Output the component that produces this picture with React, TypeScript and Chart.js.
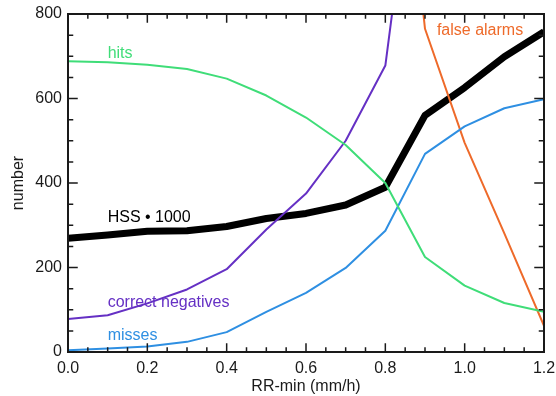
import React, { useEffect, useRef } from 'react';
import { Chart, registerables } from 'chart.js';

Chart.register(...registerables);

// ---- data ----
const rrMin = [0, 0.1, 0.2, 0.3, 0.4, 0.5, 0.6, 0.7, 0.8, 0.9, 1.0, 1.1, 1.2];
const hits = [688, 686, 680, 670, 647, 607, 555, 490, 400, 225, 157, 116, 95];
const correctNegatives = [78, 87, 115, 148, 196, 290, 375, 500, 678, 1400, null, null, null];
const misses = [4, 8, 13, 24, 47, 95, 140, 199, 287, 469, 534, 577, 598];
const falseAlarms = [null, null, null, null, null, null, null, null, 1640, 765, 495, 281, 62];
const hss1000 = [269, 277, 286, 287, 297, 316, 328, 348, 390, 560, 626, 699, 758];

const xTicks = [0, 0.2, 0.4, 0.6, 0.8, 1.0, 1.2];
const yTicks = [0, 200, 400, 600, 800];

const seriesNames = ['hits', 'correct negatives', 'misses', 'false alarms', 'HSS \u2022 1000'];
const seriesColors = ['#3fdd78', '#6530c4', '#2e8fe2', '#ee6a2a', '#000000'];
const labelX = [0.1, 0.1, 0.1, 0.93, 0.1];
const labelY = [707, 116, 38, 760, 318];

const FONT = '"Liberation Sans", Arial, Helvetica, sans-serif';
const AXIS = '#1a1a1a';

const toPts = (ys: (number | null)[]) => rrMin.map((x, i) => ({ x, y: ys[i] }));

const overlay = {
  id: 'overlay',
  afterDraw(chart: any) {
    const ctx = chart.ctx as CanvasRenderingContext2D;
    const area = chart.chartArea;
    const xs = chart.scales.x;
    const ys = chart.scales.y;
    ctx.save();
    ctx.strokeStyle = AXIS;
    ctx.lineCap = 'square';
    ctx.lineWidth = 2;
    ctx.strokeRect(area.left, area.top, area.right - area.left, area.bottom - area.top);
    ctx.lineWidth = 1.5;
    ctx.beginPath();
    for (let i = 0; i <= 24; i++) {
      const px = xs.getPixelForValue(i * 0.05);
      const len = i % 4 === 0 ? 8 : 4;
      ctx.moveTo(px, area.bottom);
      ctx.lineTo(px, area.bottom - len);
      ctx.moveTo(px, area.top);
      ctx.lineTo(px, area.top + len);
    }
    for (let i = 0; i <= 16; i++) {
      const py = ys.getPixelForValue(i * 50);
      const len = i % 4 === 0 ? 9 : 4.5;
      ctx.moveTo(area.left, py);
      ctx.lineTo(area.left + len, py);
      ctx.moveTo(area.right, py);
      ctx.lineTo(area.right - len, py);
    }
    ctx.stroke();
    ctx.font = '16px ' + FONT;
    ctx.textAlign = 'left';
    ctx.textBaseline = 'middle';
    for (let i = 0; i < seriesNames.length; i++) {
      ctx.fillStyle = seriesColors[i];
      ctx.fillText(seriesNames[i], xs.getPixelForValue(labelX[i]), ys.getPixelForValue(labelY[i]));
    }
    ctx.restore();
  },
};

export default function App() {
  const ref = useRef<HTMLCanvasElement>(null);
  useEffect(() => {
    document.body.style.margin = '0';
    const canvas = ref.current!;
    const chart = new Chart(canvas, {
      type: 'line',
      data: {
        datasets: [
          { label: 'hits', data: toPts(hits), borderColor: seriesColors[0], borderWidth: 2 },
          { label: 'correct negatives', data: toPts(correctNegatives), borderColor: seriesColors[1], borderWidth: 2 },
          { label: 'misses', data: toPts(misses), borderColor: seriesColors[2], borderWidth: 2 },
          { label: 'false alarms', data: toPts(falseAlarms), borderColor: seriesColors[3], borderWidth: 2 },
          { label: 'HSS * 1000', data: toPts(hss1000), borderColor: seriesColors[4], borderWidth: 7 },
        ] as any,
      },
      options: {
        responsive: false,
        animation: false,
        devicePixelRatio: 1,
        layout: { padding: { top: 14, right: 12, left: 0, bottom: 0 } },
        elements: {
          point: { radius: 0 },
          line: { tension: 0, borderJoinStyle: 'round', borderCapStyle: 'butt', fill: false },
        },
        datasets: { line: { clip: 0, spanGaps: false } } as any,
        plugins: { legend: { display: false }, tooltip: { enabled: false } },
        scales: {
          x: {
            type: 'linear', min: 0, max: 1.2,
            grid: { display: false, drawTicks: false },
            border: { display: false },
            afterBuildTicks: (s: any) => { s.ticks = xTicks.map((v) => ({ value: v })); },
            afterFit: (s: any) => { s.height = 44; s.paddingLeft = 0; s.paddingRight = 0; },
            ticks: { padding: 7, color: AXIS, font: { family: FONT, size: 16 }, maxRotation: 0, autoSkip: false, callback: (v: any) => Number(v).toFixed(1) },
            title: { display: true, text: 'RR-min (mm/h)', color: AXIS, font: { family: FONT, size: 16 }, padding: { top: 0, bottom: 0 } },
          },
          y: {
            type: 'linear', min: 0, max: 800,
            grid: { display: false, drawTicks: false },
            border: { display: false },
            afterBuildTicks: (s: any) => { s.ticks = yTicks.map((v) => ({ value: v })); },
            afterFit: (s: any) => { s.width = 68; s.paddingTop = 0; s.paddingBottom = 0; },
            ticks: { padding: 6, color: AXIS, font: { family: FONT, size: 16 }, autoSkip: false, callback: (v: any) => String(v) },
            title: { display: true, text: 'number', color: AXIS, font: { family: FONT, size: 16 }, padding: { top: 9, bottom: 0 } },
          },
        },
      } as any,
      plugins: [overlay],
    });
    return () => chart.destroy();
  }, []);
  return (
    <div style={{ position: 'absolute', left: 0, top: 0, width: 556, height: 396, background: '#fff' }}>
      <canvas ref={ref} width={556} height={396} style={{ display: 'block' }} />
    </div>
  );
}
